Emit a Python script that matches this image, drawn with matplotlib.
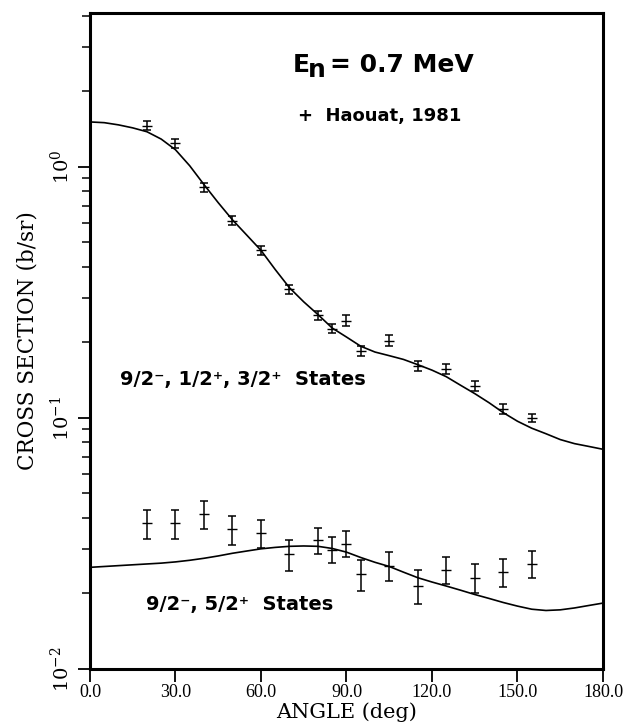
import matplotlib
matplotlib.use("Agg")
import matplotlib.pyplot as plt
from matplotlib.ticker import LogLocator, FixedLocator, NullFormatter

plt.rcParams["mathtext.fontset"] = "dejavuserif"

# data (Haouat, 1981, En = 0.7 MeV)
ang_a = [20, 30, 40, 50, 60, 70, 80, 85, 90, 95, 105, 115, 125, 135, 145, 155]
xs_a = [1.46, 1.24, 0.83, 0.61, 0.465, 0.325, 0.256, 0.227, 0.244, 0.185,
        0.203, 0.161, 0.157, 0.134, 0.109, 0.100]
err_a = [0.06, 0.05, 0.035, 0.025, 0.02, 0.014, 0.011, 0.009, 0.012, 0.009,
         0.01, 0.007, 0.007, 0.006, 0.005, 0.004]

ang_b = [20, 30, 40, 50, 60, 70, 80, 85, 90, 95, 105, 115, 125, 135, 145, 155]
xs_b = [0.038, 0.038, 0.0413, 0.036, 0.0347, 0.0286, 0.0326, 0.0299, 0.0316,
        0.0238, 0.0258, 0.0215, 0.0249, 0.0231, 0.0244, 0.0263]
err_b = [0.005, 0.005, 0.0052, 0.0048, 0.0045, 0.004, 0.0038, 0.0035, 0.0038,
         0.0034, 0.0034, 0.0033, 0.0031, 0.0031, 0.0031, 0.0033]

# calculated curves
ang_c = [0, 5, 10, 15, 20, 25, 30, 35, 40, 45, 50, 55, 60, 65, 70, 75, 80, 85,
         90, 95, 100, 105, 110, 115, 120, 125, 130, 135, 140, 145, 150, 155,
         160, 165, 170, 175, 180]
curve_a = [1.51, 1.50, 1.47, 1.43, 1.38, 1.29, 1.17, 1.01, 0.85, 0.72, 0.615,
           0.535, 0.465, 0.39, 0.33, 0.29, 0.258, 0.228, 0.21, 0.193, 0.183,
           0.177, 0.171, 0.163, 0.155, 0.146, 0.135, 0.125, 0.115, 0.105,
           0.097, 0.091, 0.0865, 0.082, 0.079, 0.077, 0.075]
curve_b = [0.0254, 0.0256, 0.0258, 0.0260, 0.0262, 0.0264, 0.0267, 0.0271,
           0.0276, 0.0282, 0.0289, 0.0295, 0.0301, 0.0305, 0.0308, 0.0309,
           0.0308, 0.0302, 0.0292, 0.0278, 0.0266, 0.0256, 0.0243, 0.0231,
           0.0222, 0.0214, 0.0206, 0.0198, 0.0191, 0.0184, 0.0178, 0.0173,
           0.0171, 0.0172, 0.0175, 0.0179, 0.0183]

x_ticks = [0, 30, 60, 90, 120, 150, 180]

fig = plt.figure(figsize=(6.31, 7.24), dpi=100)
ax = fig.add_axes([0.1426, 0.076, 0.813, 0.906])

ax.plot(ang_c, curve_a, color="black", lw=1.2)
ax.plot(ang_c, curve_b, color="black", lw=1.2)
ax.errorbar(ang_a, xs_a, yerr=err_a, fmt="_", color="black", ms=7,
            elinewidth=1.1, capsize=3, capthick=1.1)
ax.errorbar(ang_b, xs_b, yerr=err_b, fmt="_", color="black", ms=7,
            elinewidth=1.1, capsize=3, capthick=1.1)

ax.set_yscale("log")
ax.set_xlim(0, 180)
ax.set_ylim(0.01, 4.1)

ax.xaxis.set_major_locator(FixedLocator(x_ticks))
ax.set_xticklabels([f"{t:.1f}" for t in x_ticks], family="Liberation Serif",
                   fontsize=13)
ax.yaxis.set_minor_locator(LogLocator(base=10, subs=range(2, 10), numticks=10))
ax.yaxis.set_minor_formatter(NullFormatter())
ax.set_yticks([0.01, 0.1, 1.0])
ax.set_yticklabels([r"$10^{-2}$", r"$10^{-1}$", r"$10^{0}$"], rotation=90,
                   va="center", fontsize=14)

ax.tick_params(axis="both", which="major", direction="out", length=9, width=1.3)
ax.tick_params(axis="x", which="major", pad=2)
ax.tick_params(axis="y", which="minor", direction="out", length=6, width=1.1)
ax.tick_params(top=False, right=False)
for s in ax.spines.values():
    s.set_linewidth(2.2)

ax.set_xlabel("ANGLE (deg)", family="DejaVu Serif", fontsize=15, labelpad=1)
ax.set_ylabel("CROSS SECTION (b/sr)", family="DejaVu Serif", fontsize=15.5,
              labelpad=8)

ax.text(0.395, 0.921, "E", transform=ax.transAxes, fontsize=18,
        fontweight="bold", ha="left", va="center")
ax.text(0.425, 0.913, "n", transform=ax.transAxes, fontsize=18,
        fontweight="bold", ha="left", va="center")
ax.text(0.468, 0.921, "= 0.7 MeV", transform=ax.transAxes, fontsize=18,
        fontweight="bold", ha="left", va="center")
ax.text(0.405, 0.843, "+  Haouat, 1981", transform=ax.transAxes, fontsize=13,
        fontweight="bold", ha="left", va="center")
ax.text(0.058, 0.442, "9/2\u207b, 1/2\u207a, 3/2\u207a  States",
        transform=ax.transAxes, fontsize=14, fontweight="bold", ha="left",
        va="center")
ax.text(0.11, 0.098, "9/2\u207b, 5/2\u207a  States", transform=ax.transAxes,
        fontsize=14, fontweight="bold", ha="left", va="center")

fig.savefig("out.png", dpi=100)
